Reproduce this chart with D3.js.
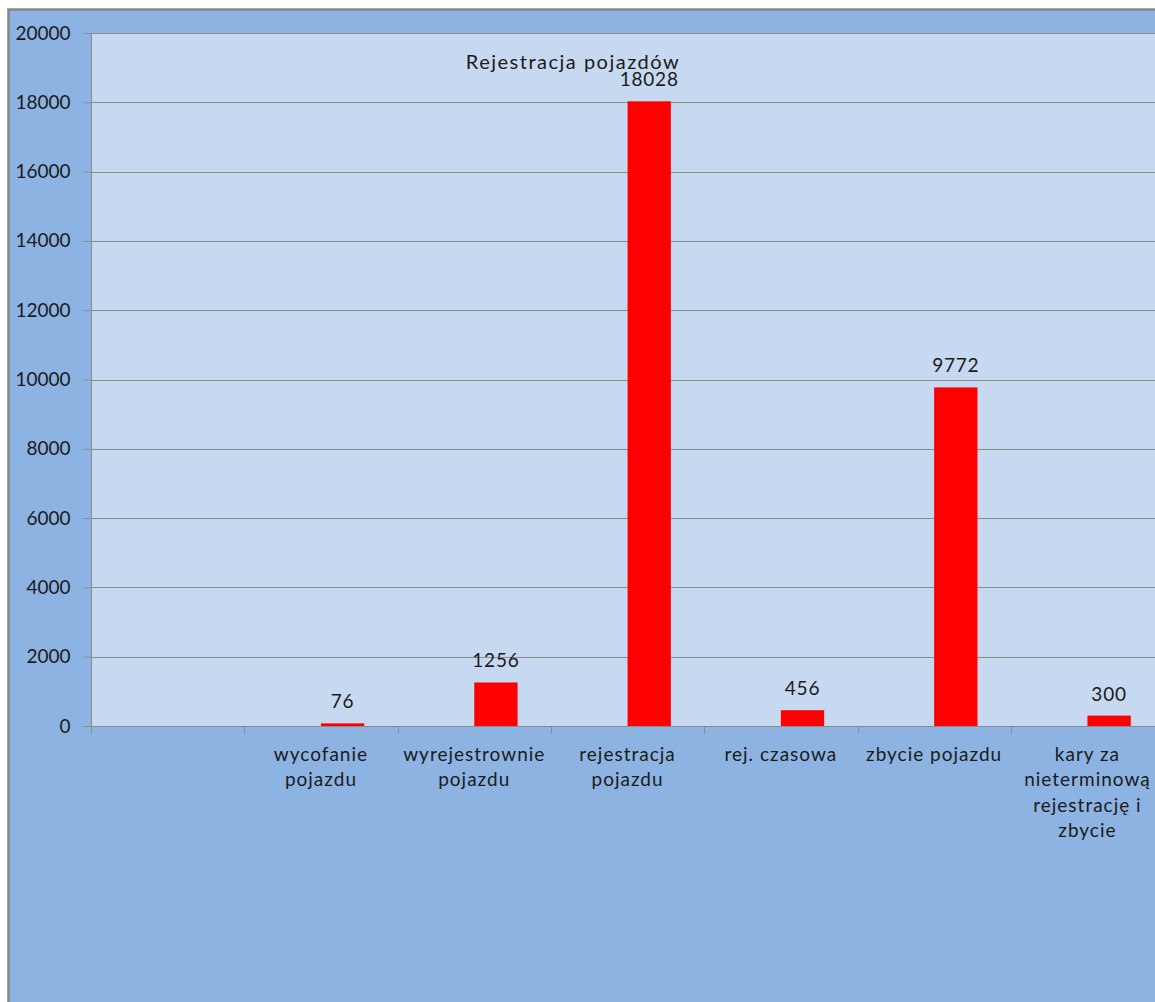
<!DOCTYPE html>
<html><head><meta charset="utf-8">
<script src="https://cdn.jsdelivr.net/npm/d3@7"></script>
<style>
html,body{margin:0;padding:0;background:#fff;overflow:hidden}
text{font-family:Lato,"Open Sans",sans-serif;fill:#1b1b1b}
</style></head>
<body>
<script>
const categories = ["", "wycofanie\npojazdu", "wyrejestrownie\npojazdu", "rejestracja\npojazdu", "rej. czasowa", "zbycie pojazdu", "kary za\nnieterminową\nrejestrację i\nzbycie"];
const values = [null, 76, 1256, 18028, 456, 9772, 300];
const seriesNames = ["", "Rejestracja pojazdów"];
const yTicks = [0, 2000, 4000, 6000, 8000, 10000, 12000, 14000, 16000, 18000, 20000];
const chartTitle = "Rejestracja pojazdów";

const W = 1155, H = 1002;
const svg = d3.select("body").append("svg").attr("width", W).attr("height", H);

// outer chart area
svg.append("rect").attr("x", 8.5).attr("y", 9.5).attr("width", W).attr("height", H)
  .attr("fill", "#8DB3E2").attr("stroke", "#858585").attr("stroke-width", 2.5);

const pLeft = 91, pTop = 33, pBottom = 726;
const pRight = pLeft + 153.3 * 7;

const x = d3.scaleBand().domain(d3.range(categories.length)).range([pLeft, pRight]).padding(0);
const x1 = d3.scaleBand().domain(seriesNames).range([0, x.bandwidth()]).paddingInner(0).paddingOuter(0.77);
const y = d3.scaleLinear().domain([0, 20000]).range([pBottom, pTop]);

// plot area
svg.append("rect").attr("x", pLeft).attr("y", pTop).attr("width", pRight - pLeft).attr("height", pBottom - pTop)
  .attr("fill", "#C6D9F1");

// gridlines
svg.append("g").selectAll("line").data(yTicks).join("line")
  .attr("x1", pLeft).attr("x2", pRight)
  .attr("y1", d => Math.round(y(d)) + 0.5).attr("y2", d => Math.round(y(d)) + 0.5)
  .attr("stroke", "#8C8C8C").attr("stroke-width", 1);

// bars
const data = categories.map((c, i) => ({ i, v: values[i] })).filter(d => d.v != null);
svg.append("g").selectAll("rect").data(data).join("rect")
  .attr("x", d => x(d.i) + x1(seriesNames[1]))
  .attr("width", x1.bandwidth())
  .attr("y", d => y(d.v))
  .attr("height", d => y(0) - y(d.v))
  .attr("fill", "#FF0000");

// data labels
svg.append("g").selectAll("text").data(data).join("text")
  .attr("x", d => x(d.i) + x1(seriesNames[1]) + x1.bandwidth() / 2)
  .attr("y", d => y(d.v) - 15)
  .attr("text-anchor", "middle")
  .attr("font-size", 19)
  .attr("letter-spacing", 0.8)
  .text(d => d.v);

// y axis
const yAxis = d3.axisLeft(y).tickValues(yTicks).tickSize(8).tickPadding(13).tickFormat(d3.format("d"));
const gy = svg.append("g").attr("transform", `translate(${pLeft + 0.5},0)`).call(yAxis);
gy.select(".domain").attr("stroke", "#8C8C8C").attr("d", `M-8,${pTop + 0.5}H0V${pBottom + 7}`);
gy.selectAll(".tick line").attr("stroke", "#8C8C8C");
gy.selectAll(".tick text").attr("font-size", 19).attr("font-family", "Lato, sans-serif").attr("fill", "#1b1b1b");

// x axis
const xAxis = d3.axisBottom(x).tickSize(0).tickFormat("");
const gx = svg.append("g").attr("transform", `translate(0,${pBottom + 0.5})`).call(xAxis);
gx.select(".domain").attr("stroke", "#8C8C8C").attr("d", `M${pLeft},0H${pRight}`);
gx.selectAll(".tick").remove();
const bounds = d3.range(categories.length + 1).map(i => pLeft + i * x.step());
gx.selectAll("line.tk").data(bounds).join("line").attr("class", "tk")
  .attr("x1", d => Math.round(d) + 0.5).attr("x2", d => Math.round(d) + 0.5)
  .attr("y1", 0).attr("y2", 7).attr("stroke", "#8C8C8C");

// category labels
const lab = svg.append("g").selectAll("text").data(categories).join("text")
  .attr("text-anchor", "middle")
  .attr("font-size", 19)
  .attr("letter-spacing", 1)
  .attr("x", (d, i) => x(i) + x.bandwidth() / 2)
  .attr("y", 761);
lab.selectAll("tspan").data(d => d ? d.split("\n") : []).join("tspan")
  .attr("x", function() { return d3.select(this.parentNode).attr("x"); })
  .attr("dy", (d, i) => i === 0 ? 0 : 25.3)
  .text(d => d);

// title
svg.append("text").attr("x", 573).attr("y", 69).attr("text-anchor", "middle")
  .attr("font-size", 20).attr("letter-spacing", 1.5).text(chartTitle);
</script>
</body></html>
